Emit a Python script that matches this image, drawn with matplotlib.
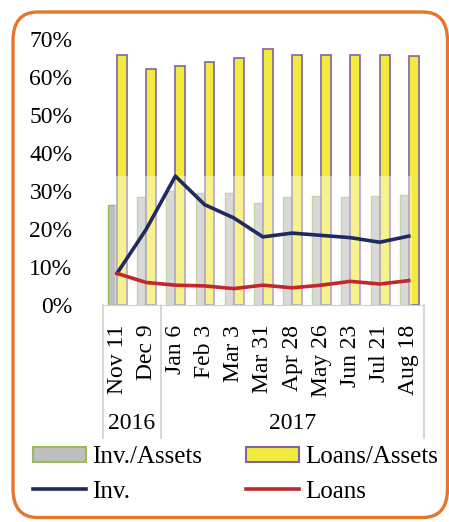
import matplotlib
matplotlib.use("Agg")
import matplotlib.pyplot as plt
import matplotlib.transforms as mtransforms
from matplotlib.patches import FancyBboxPatch, Patch
from matplotlib.lines import Line2D
from matplotlib.ticker import FuncFormatter
import numpy as np

plt.rcParams["font.family"] = ["Liberation Serif", "DejaVu Serif"]

dates = ["Nov 11", "Dec 9", "Jan 6", "Feb 3", "Mar 3", "Mar 31",
         "Apr 28", "May 26", "Jun 23", "Jul 21", "Aug 18"]
years = ["2016", "2017"]
year_counts = [2, 9]

inv_assets = [26.5, 28.4, 30.0, 29.5, 29.6, 27.0, 28.4, 28.7, 28.4, 28.7, 29.0]
loans_assets = [66.0, 62.1, 62.9, 64.1, 65.2, 67.4, 65.8, 66.0, 66.0, 65.8, 65.7]
inv = [8.4, 20.0, 34.0, 26.5, 23.0, 18.0, 19.0, 18.4, 17.8, 16.6, 18.2]
loans = [8.4, 6.0, 5.3, 5.1, 4.4, 5.3, 4.6, 5.3, 6.3, 5.6, 6.5]

W, H = 449, 522
fig = plt.figure(figsize=(W / 100, H / 100), dpi=100)
ax = fig.add_axes([103 / W, 1 - 305.3 / H, 321 / W, 266 / H])

x = np.arange(len(dates))
ax.bar(x - 0.17, inv_assets, width=0.28, color="#BFBFBF",
       edgecolor="#9BBB59", linewidth=1.0, zorder=2)
ax.bar(x + 0.17, loans_assets, width=0.34, color="#F2EA3C",
       edgecolor="#8064A2", linewidth=1.2, zorder=3)
# washed-out patch over the lower part of the plot
ax.axhspan(0, 34, xmin=0.037, xmax=0.962, color="white", alpha=0.42,
           linewidth=0, zorder=4)
ax.plot(x, inv, color="#1F2A5E", linewidth=2.6, zorder=5,
        solid_joinstyle="round")
ax.plot(x, loans, color="#C0282D", linewidth=2.6, zorder=5,
        solid_joinstyle="round")

ax.set_xlim(-0.48, 10.52)
ax.set_ylim(0, 70)
ax.set_yticks(range(0, 71, 10))
ax.yaxis.set_major_formatter(FuncFormatter(lambda v, p: f"{int(v)}%"))
ax.tick_params(axis="y", length=0, pad=22, labelsize=17)
ax.set_xticks(x)
ax.set_xticklabels(dates, rotation=90, fontsize=17, va="top")
ax.tick_params(axis="x", length=0, pad=14)
for s in ["top", "right", "left"]:
    ax.spines[s].set_visible(False)
ax.spines["bottom"].set_color("#D0D0D0")

# category boundaries and year labels
trans = mtransforms.blended_transform_factory(ax.transData, ax.transAxes)
edges = [-0.48]
pos = 0
for c in year_counts:
    pos += c
    edges.append(pos - 0.5)
edges[-1] = 10.52
for e in edges:
    ax.plot([e, e], [0, -0.497], transform=trans, color="#D0D0D0",
            linewidth=1.2, clip_on=False)
start = 0
for yr, c in zip(years, year_counts):
    ax.text(start + (c - 1) / 2, -0.445, yr, transform=trans, ha="center",
            va="center", fontsize=17)
    start += c

handles = [
    Patch(facecolor="#BFBFBF", edgecolor="#9BBB59", linewidth=1.5, label="Inv./Assets"),
    Line2D([], [], color="#1F2A5E", linewidth=2.6, label="Inv."),
    Patch(facecolor="#F2EA3C", edgecolor="#8064A2", linewidth=1.5, label="Loans/Assets"),
    Line2D([], [], color="#C0282D", linewidth=2.6, label="Loans"),
]
fig.legend(handles=handles, ncol=2, loc="upper left",
           bbox_to_anchor=(33 / W, 1 - 446 / H), frameon=False,
           fontsize=18, handlelength=2.12, handleheight=0.55,
           handletextpad=0.24, columnspacing=1.76, labelspacing=0.5,
           borderpad=0, borderaxespad=0)

frame = FancyBboxPatch((13 / W, 1 - 517.5 / H), (447.5 - 13) / W, (517.5 - 12) / H,
                       boxstyle="round,pad=0,rounding_size=0.055",
                       transform=fig.transFigure, facecolor="none",
                       edgecolor="#E5772C", linewidth=2.4, clip_on=False)
fig.patches.append(frame)

fig.savefig("out.png", dpi=100)
